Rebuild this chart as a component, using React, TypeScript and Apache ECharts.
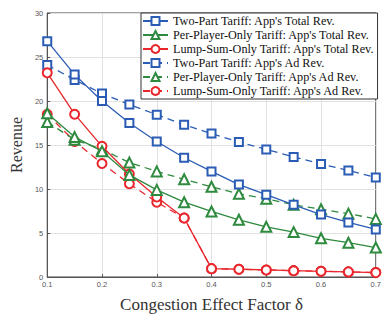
import React, { useEffect, useRef } from "react";
import * as echarts from "echarts";

const deltas = [0.1, 0.15, 0.2, 0.25, 0.3, 0.35, 0.4, 0.45, 0.5, 0.55, 0.6, 0.65, 0.7];
const twoPartTotal = [26.8, 23.0, 20.0, 17.5, 15.4, 13.55, 12.0, 10.5, 9.35, 8.2, 7.1, 6.2, 5.4];
const perPlayerTotal = [18.6, 15.9, 14.3, 11.6, 9.9, 8.5, 7.45, 6.5, 5.7, 5.1, 4.4, 3.9, 3.35];
const lumpSumTotal = [23.2, 18.5, 14.85, 11.7, 9.1, 6.7, 0.95, 0.88, 0.8, 0.72, 0.65, 0.58, 0.5];
const twoPartAd = [24.1, 22.4, 20.85, 19.6, 18.45, 17.3, 16.3, 15.35, 14.5, 13.65, 12.85, 12.1, 11.3];
const perPlayerAd = [17.6, 15.6, 14.5, 13.0, 12.0, 11.1, 10.25, 9.45, 8.9, 8.2, 7.7, 7.2, 6.6];
const lumpSumAd = [18.5, 15.4, 12.9, 10.6, 8.5, 6.7, 0.95, 0.88, 0.8, 0.72, 0.65, 0.58, 0.5];
const seriesNames = [
  "Two-Part Tariff: App's Total Rev.",
  "Per-Player-Only Tariff: App's Total Rev.",
  "Lump-Sum-Only Tariff: App's Total Rev.",
  "Two-Part Tariff: App's Ad Rev.",
  "Per-Player-Only Tariff: App's Ad Rev.",
  "Lump-Sum-Only Tariff: App's Ad Rev.",
];

const BLUE = "#2b5cb5";
const GREEN = "#2e8a3e";
const RED = "#e8262c";
const SERIF = "'Liberation Serif', 'Times New Roman', serif";

export default function App() {
  const ref = useRef<HTMLDivElement>(null);
  useEffect(() => {
    if (!ref.current) return;
    const chart = echarts.init(ref.current, null, { renderer: "svg" });
    const mk = (name: string, vals: number[], color: string, symbol: string, size: number, dashed: boolean, z: number) => ({
      name,
      type: "line",
      data: deltas.map((d, i) => [d, vals[i]]),
      symbol,
      symbolSize: size,
      z,
      lineStyle: { color, width: 1.3, type: dashed ? [7, 5] : "solid" },
      itemStyle: { color, borderColor: color, borderWidth: 1.3 },
    });
    chart.setOption({
      animation: false,
      grid: { left: 35, right: 3, top: 13, bottom: 32, show: true, borderColor: "#444", borderWidth: 1 },
      xAxis: {
        type: "value",
        min: 0.1,
        max: 0.7,
        interval: 0.1,
        axisLine: { lineStyle: { color: "#555" } },
        axisTick: { inside: true, length: 3, lineStyle: { color: "#555" } },
        splitLine: { show: true, lineStyle: { color: "#e2e2e2" } },
        axisLabel: { fontSize: 7.5, color: "#555", fontFamily: "Liberation Sans", margin: 3, formatter: (v: number) => v.toFixed(1) },
        name: "Congestion Effect Factor δ",
        nameLocation: "middle",
        nameGap: 19,
        nameTextStyle: { fontFamily: SERIF, fontSize: 17, color: "#333" },
      },
      yAxis: {
        type: "value",
        min: 0,
        max: 30,
        interval: 5,
        axisLine: { show: true, lineStyle: { color: "#555" } },
        axisTick: { show: true, inside: true, length: 3, lineStyle: { color: "#555" } },
        splitLine: { show: true, lineStyle: { color: "#e2e2e2" } },
        axisLabel: { fontSize: 7.5, color: "#555", fontFamily: "Liberation Sans", margin: 4 },
        name: "Revenue",
        nameLocation: "middle",
        nameGap: 22,
        nameTextStyle: { fontFamily: SERIF, fontSize: 16, color: "#333" },
      },
      legend: {
        data: seriesNames,
        orient: "vertical",
        left: 141,
        top: 13,
        itemWidth: 25,
        itemHeight: 10,
        itemGap: 0,
        padding: [1, 3, 1, 1],
        backgroundColor: "#fff",
        borderColor: "#333",
        borderWidth: 1,
        borderRadius: 0,
        textStyle: { fontFamily: SERIF, fontSize: 12.2, lineHeight: 14, color: "#111" },
      },
      series: [
        mk(seriesNames[0], twoPartTotal, BLUE, "emptyRect", 8, false, 6),
        mk(seriesNames[1], perPlayerTotal, GREEN, "emptyTriangle", 10, false, 5),
        mk(seriesNames[2], lumpSumTotal, RED, "emptyCircle", 9, false, 4),
        mk(seriesNames[3], twoPartAd, BLUE, "emptyRect", 8, true, 3),
        mk(seriesNames[4], perPlayerAd, GREEN, "emptyTriangle", 10, true, 2),
        mk(seriesNames[5], lumpSumAd, RED, "emptyCircle", 9, true, 1),
      ],
    });
    return () => chart.dispose();
  }, []);
  return <div ref={ref} style={{ width: 384, height: 318, position: "absolute", left: 0, top: 0 }} />;
}
